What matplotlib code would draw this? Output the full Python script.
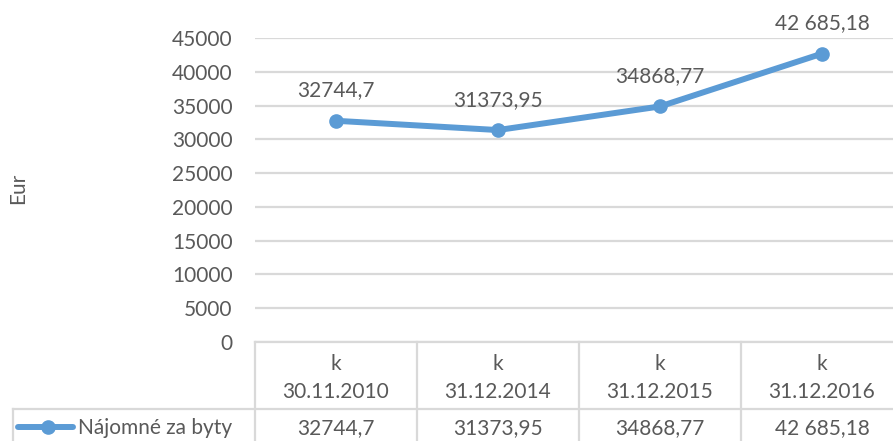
import matplotlib
matplotlib.use("Agg")
import matplotlib.pyplot as plt
from matplotlib.transforms import blended_transform_factory
from matplotlib.lines import Line2D

plt.rcParams['font.family'] = ['Lato', 'DejaVu Sans']

categories = ["k\n30.11.2010", "k\n31.12.2014", "k\n31.12.2015", "k\n31.12.2016"]
values = [32744.7, 31373.95, 34868.77, 42685.18]
value_labels = ["32744,7", "31373,95", "34868,77", "42 685,18"]
series_name = "Nájomné za byty"
y_ticks = [0, 5000, 10000, 15000, 20000, 25000, 30000, 35000, 40000, 45000]
y_label = "Eur"

W, H = 893, 441
TXT = "#595959"
GRID = "#D9D9D9"
BLUE = "#5B9BD5"
FS = 15

fig = plt.figure(figsize=(W / 100, H / 100), dpi=100)
ax = fig.add_axes([255 / W, 1 - 342 / H, 648 / W, (342 - 38) / H])

x = list(range(len(values)))
ax.plot(x, values, color=BLUE, lw=4.3, marker='o', ms=9.5, solid_capstyle='round', zorder=3)
for xi, v, lab in zip(x, values, value_labels):
    ax.annotate(lab, (xi, v), xytext=(0, 17.5), textcoords='offset points',
                ha='center', va='baseline', fontsize=FS, color=TXT)

ax.set_xlim(-0.5, len(values) - 0.5)
ax.set_ylim(0, 45000)
ax.set_yticks(y_ticks)
ax.set_yticklabels([str(t) for t in y_ticks])
ax.set_xticks([])
ax.tick_params(axis='y', length=0, pad=16, labelsize=FS, labelcolor=TXT)
ax.grid(axis='y', color=GRID, lw=1.6)
ax.set_axisbelow(True)
for s in ['left', 'right', 'top']:
    ax.spines[s].set_visible(False)
ax.spines['bottom'].set_color(GRID)
ax.spines['bottom'].set_linewidth(1.6)

fig.text(18 / W, 1 - 188 / H, y_label, rotation=90, ha='center', va='center',
         fontsize=FS, color=TXT)

# data table
def fy(py):
    return 1 - py / H

tr = blended_transform_factory(ax.transData, fig.transFigure)
n = len(values)
# horizontal separator between header and data row
fig.add_artist(Line2D([13 / W, 1.02], [fy(409), fy(409)], color=GRID, lw=1.6,
                      transform=fig.transFigure))
fig.add_artist(Line2D([13 / W, 13 / W], [fy(409), fy(450)], color=GRID, lw=1.6,
                      transform=fig.transFigure))
for i in range(n + 1):
    fig.add_artist(Line2D([i - 0.5, i - 0.5], [fy(342), fy(450)], color=GRID, lw=1.6,
                          transform=tr))
for i, (cat, lab) in enumerate(zip(categories, value_labels)):
    line1, line2 = cat.split("\n")
    fig.text(i, fy(369.5), line1, transform=tr, ha='center', va='baseline', fontsize=FS, color=TXT)
    fig.text(i, fy(397.5), line2, transform=tr, ha='center', va='baseline', fontsize=FS, color=TXT)
    fig.text(i, fy(434.5), lab, transform=tr, ha='center', va='baseline', fontsize=FS, color=TXT)

# legend key
fig.add_artist(Line2D([18 / W, 73 / W], [fy(427), fy(427)], color=BLUE, lw=4.3,
                      transform=fig.transFigure, solid_capstyle='round'))
fig.add_artist(Line2D([48 / W], [fy(427)], color=BLUE, marker='o', ms=9.5, lw=0,
                      transform=fig.transFigure))
fig.text(78 / W, fy(434.5), series_name, ha='left', va='baseline', fontsize=FS, color=TXT)

fig.savefig("out.png", dpi=100)
